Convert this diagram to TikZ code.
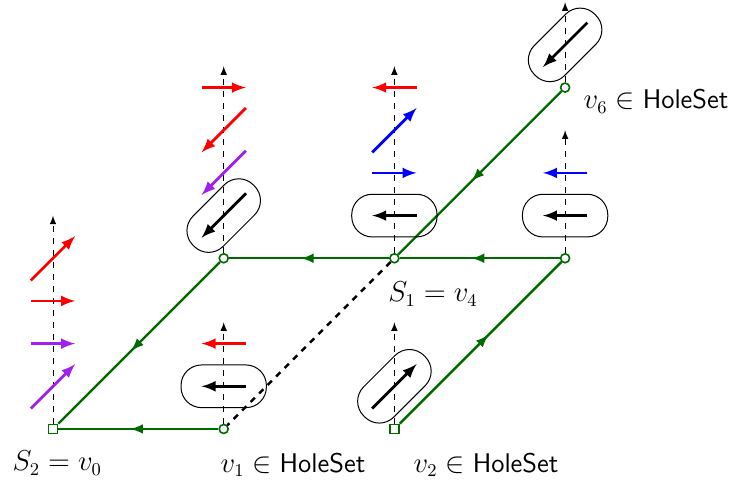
\documentclass[tikz,border=0pt]{standalone}
\usepackage{xcolor}
\usetikzlibrary{arrows, calc, decorations.markings}

\definecolor{spinpurple}{RGB}{160,32,240}
\definecolor{pathgreen}{RGB}{0,105,0}

\begin{document}
\begin{tikzpicture}[x=3cm, y=3cm, >=latex, font=\fontsize{13.5}{16}\selectfont,
    site/.style={draw=pathgreen, fill=white, circle, inner sep=0pt, minimum size=4.5pt, line width=0.8pt},
    sqsite/.style={draw=pathgreen, fill=white, rectangle, inner sep=0pt, minimum size=4.5pt, line width=0.8pt},
    walk/.style={draw=pathgreen, line width=1.15pt, postaction={decorate},
        decoration={markings, mark=at position 0.55 with {\arrow{latex}}}},
    axis/.style={->, dashed, line width=0.5pt},
    spin/.style={->, line width=1.4pt},
    pill/.style={draw, rectangle, rounded corners=0.36cm, minimum width=1.5cm, minimum height=0.75cm, inner sep=0pt, line width=0.5pt}]
    \useasboundingbox (-0.3105,-0.3163) rectangle (3.966,2.513);

    % lattice sites
    \node [sqsite] (v0) at (0,0) {};
    \node [site] (v1) at (1,0) {};
    \node [sqsite] (v2) at (2,0) {};
    \node [site] (v3) at (1,1) {};
    \node [site] (v4) at (2,1) {};
    \node [site] (v5) at (3,1) {};
    \node [site] (v6) at (3,2) {};

    % labels
    \node (l0) at (0.025,-0.2) {$S_2 = v_0$};
    \node (l1) at (1.406,-0.211) {$v_1 \in \textsf{HoleSet}$};
    \node (l2) at (2.537,-0.211) {$v_2 \in \textsf{HoleSet}$};
    \node (l4) at (2.226,0.79) {$S_1 = v_4$};
    \node (l6) at (3.533,1.92) {$v_6 \in \textsf{HoleSet}$};

    % the walk
    \draw[walk] (v1) -- (v0);
    \draw[walk] (v3) -- (v0);
    \draw[walk] (v4) -- (v3);
    \draw[walk] (v5) -- (v4);
    \draw[walk] (v2) -- (v5);
    \draw[walk] (v6) -- (v4);
    \draw[dashed, line width=1.2pt] (v4) -- (v1);

    % spin axes
    \draw[axis] (v0) -- ++(0,1.25);
    \draw[axis] (v1) -- ++(0,0.625);
    \draw[axis] (v2) -- ++(0,0.625);
    \draw[axis] (v3) -- ++(0,1.125);
    \draw[axis] (v4) -- ++(0,1.125);
    \draw[axis] (v5) -- ++(0,0.75);
    \draw[axis] (v6) -- ++(0,0.5);

    % holes
    \node [pill, rotate=45] (p3) at (1,1.25) {};
    \node [pill] (p4) at (2,1.25) {};
    \node [pill] (p5) at (3,1.25) {};
    \node [pill, rotate=45] (p6) at (3,2.25) {};
    \node [pill] (p1) at (1,0.25) {};
    \node [pill, rotate=45] (p2) at (2,0.25) {};
    \draw[spin] ($(p3)+(0.13,0.13)$) -- ($(p3)+(-0.13,-0.13)$);
    \draw[spin] ($(p6)+(0.13,0.13)$) -- ($(p6)+(-0.13,-0.13)$);
    \draw[spin] ($(p2)+(-0.13,-0.13)$) -- ($(p2)+(0.13,0.13)$);
    \draw[spin] ($(p4)+(0.13,0)$) -- ($(p4)+(-0.13,0)$);
    \draw[spin] ($(p5)+(0.13,0)$) -- ($(p5)+(-0.13,0)$);
    \draw[spin] ($(p1)+(0.13,0)$) -- ($(p1)+(-0.13,0)$);

    % spins at S_2
    \draw[spin, spinpurple] (-0.13,0.12) -- (0.13,0.38);
    \draw[spin, spinpurple] (-0.13,0.5) -- (0.13,0.5);
    \draw[spin, red] (-0.13,0.75) -- (0.13,0.75);
    \draw[spin, red] (-0.13,0.87) -- (0.13,1.13);

    % spins above v_1 and the upper row
    \draw[spin, red] (1.13,0.5) -- (0.87,0.5);
    \draw[spin, spinpurple] (1.13,1.63) -- (0.87,1.37);
    \draw[spin, red] (1.13,1.88) -- (0.87,1.62);
    \draw[spin, red] (0.87,2) -- (1.13,2);
    \draw[spin, blue] (1.87,1.5) -- (2.13,1.5);
    \draw[spin, blue] (1.87,1.62) -- (2.13,1.88);
    \draw[spin, red] (2.13,2) -- (1.87,2);
    \draw[spin, blue] (3.13,1.5) -- (2.87,1.5);
\end{tikzpicture}
\end{document}
